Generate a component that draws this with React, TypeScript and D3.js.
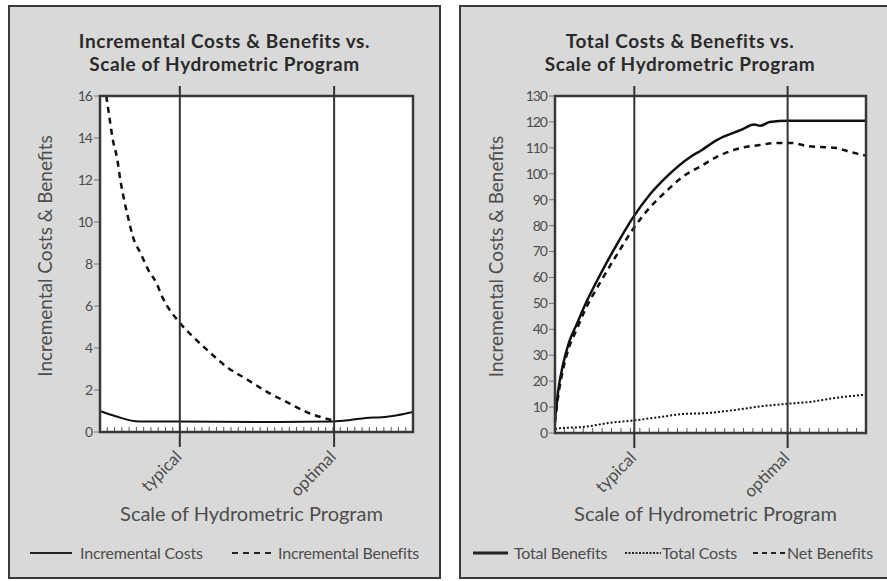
import * as d3 from 'd3'

type Pt = [number, number]

// x is the scale of the program, 0-100 across the plot
const incrementalCosts: Pt[] = [
  [0, 1.0], [5, 0.75], [12.5, 0.5], [25, 0.5], [50, 0.48], [74.5, 0.5],
  [80, 0.57], [85, 0.67], [90, 0.7], [95, 0.8], [100, 0.95],
]
const incrementalBenefits: Pt[] = [
  [2, 16], [3, 15], [4, 14], [5.5, 13], [6.5, 12], [7.5, 11.2], [9, 10.2],
  [10.5, 9.3], [13, 8.5], [15.5, 7.7], [18, 7.1], [20, 6.4], [25.5, 5.2],
  [30, 4.5], [35, 3.8], [40.5, 3.1], [47, 2.5], [53.5, 1.9], [60, 1.4],
  [66, 0.95], [74.5, 0.55],
]

const totalBenefits: Pt[] = [
  [0, 5], [1, 16], [2.5, 26], [4.5, 35], [7, 42], [9.5, 49], [14.5, 61],
  [20, 73], [25, 83], [30.5, 92], [36, 99], [43.5, 106.5], [47, 109],
  [52, 113], [60, 117], [64, 119], [66, 118.5], [69, 120], [75, 120.5], [100, 120.5],
]
const totalCosts: Pt[] = [
  [0, 1.5], [2, 1.9], [9, 2.3], [17.5, 3.9], [25, 4.8], [34, 6.2], [41, 7.3],
  [49, 7.7], [58, 8.9], [67, 10.4], [75, 11.3], [82, 12], [90, 13.5], [100, 14.8],
]
const netBenefits: Pt[] = [
  [0, 4], [1, 14], [2.5, 24], [4.5, 33], [7, 40], [9.5, 47], [14.5, 58],
  [20, 69], [25, 78.5], [30.5, 87], [36, 93.5], [41, 98.8], [47, 103],
  [52, 106.5], [60, 110], [66, 111.1], [71, 111.9], [76, 111.9], [81, 110.7],
  [85, 110.3], [90, 110], [95, 108.4], [100, 107],
]

const markers = [
  { label: 'typical', at: 25.5 },
  { label: 'optimal', at: 74.8 },
]

const leftTicks = d3.range(0, 17, 2)
const rightTicks = d3.range(0, 131, 10)

const FONT = 'Lato, "Open Sans", sans-serif'
const INK = '#2a2a2a'
const GREY = '#4d4d4d'

interface Series { data: Pt[]; dash: string; width: number }
interface LegendItem { label: string; dash: string; width: number; x: number; len: number; tx: number }

interface PanelProps {
  x0: number
  w: number
  plot: { left: number; right: number; top: number; bottom: number }
  title: [string, string]
  yMax: number
  yTicks: number[]
  minorCount: number
  series: Series[]
  legend: LegendItem[]
}

function Panel({ x0, w, plot, title, yMax, yTicks, minorCount, series, legend }: PanelProps) {
  const x = d3.scaleLinear().domain([0, 100]).range([plot.left, plot.right])
  const y = d3.scaleLinear().domain([0, yMax]).range([plot.bottom, plot.top])
  const line = d3.line<Pt>().x(d => x(d[0])).y(d => y(d[1])).curve(d3.curveMonotoneX)
  const minor = d3.range(0, minorCount + 1).map(i => (i * 100) / minorCount)
  const cx = x0 + w / 2
  const px = (plot.left + plot.right) / 2 - 5
  const py = (plot.top + plot.bottom) / 2 - 8

  return (
    <g fontFamily={FONT}>
      <rect x={x0} y={6} width={w} height={572} fill="#d9d9d9" stroke="#3a3a3a" strokeWidth={2} />
      <text x={cx} y={48} textAnchor="middle" fontSize={19} fontWeight={700} fill={INK} letterSpacing={0.6}>{title[0]}</text>
      <text x={cx} y={71} textAnchor="middle" fontSize={19} fontWeight={700} fill={INK} letterSpacing={0.6}>{title[1]}</text>

      <rect x={plot.left} y={plot.top} width={plot.right - plot.left} height={plot.bottom - plot.top} fill="#fff" />

      {minor.map((m, i) => (
        <line key={i} x1={x(m)} x2={x(m)} y1={plot.bottom} y2={plot.bottom - 5} stroke="#555" strokeWidth={1} />
      ))}

      {yTicks.map(t => (
        <g key={t}>
          <line x1={plot.left - 6} x2={plot.left} y1={y(t)} y2={y(t)} stroke="#777" strokeWidth={1} />
          <text x={plot.left - 8} y={y(t)} dy="0.35em" textAnchor="end" fontSize={14} fill={GREY} letterSpacing={-1}>{t}</text>
        </g>
      ))}

      {series.map((s, i) => (
        <path key={i} d={line(s.data) ?? ''} fill="none" stroke="#111" strokeWidth={s.width} strokeDasharray={s.dash} />
      ))}

      <rect x={plot.left} y={plot.top} width={plot.right - plot.left} height={plot.bottom - plot.top} fill="none" stroke="#383838" strokeWidth={2.5} />

      {markers.map(m => (
        <g key={m.label}>
          <line x1={x(m.at)} x2={x(m.at)} y1={plot.top - 10} y2={plot.bottom + 15} stroke="#333" strokeWidth={2} />
          <text transform={`translate(${x(m.at) + 3},${plot.bottom + 26}) rotate(-45)`} textAnchor="end" fontSize={17} fill={GREY}>{m.label}</text>
        </g>
      ))}

      <text transform={`translate(${x0 + 43},${py}) rotate(-90)`} textAnchor="middle" fontSize={19} fill={GREY}>Incremental Costs &amp; Benefits</text>
      <text x={px} y={521} textAnchor="middle" fontSize={20} fill={GREY}>Scale of Hydrometric Program</text>

      {legend.map(l => (
        <g key={l.label}>
          <line x1={l.x} x2={l.x + l.len} y1={553} y2={553} stroke="#222" strokeWidth={l.width} strokeDasharray={l.dash} />
          <text x={l.tx} y={553} dy="0.35em" fontSize={16} fill={GREY} letterSpacing={-0.2}>{l.label}</text>
        </g>
      ))}
    </g>
  )
}

export default function App() {
  return (
    <svg width={887} height={581} style={{ position: 'absolute', left: 0, top: 0, background: '#fff' }}>
      <Panel
        x0={9}
        w={431}
        plot={{ left: 100, right: 413, top: 96, bottom: 432 }}
        title={['Incremental Costs & Benefits vs.', 'Scale of Hydrometric Program']}
        yMax={16}
        yTicks={leftTicks}
        minorCount={43}
        series={[
          { data: incrementalCosts, dash: '', width: 2 },
          { data: incrementalBenefits, dash: '6,5', width: 2.5 },
        ]}
        legend={[
          { label: 'Incremental Costs', dash: '', width: 2, x: 30, len: 42, tx: 80 },
          { label: 'Incremental Benefits', dash: '6,5', width: 2, x: 232, len: 40, tx: 278 },
        ]}
      />
      <Panel
        x0={460}
        w={440}
        plot={{ left: 555, right: 866, top: 96, bottom: 433 }}
        title={['Total Costs & Benefits vs.', 'Scale of Hydrometric Program']}
        yMax={130}
        yTicks={rightTicks}
        minorCount={33}
        series={[
          { data: totalCosts, dash: '2,2', width: 2 },
          { data: netBenefits, dash: '6,5', width: 2.5 },
          { data: totalBenefits, dash: '', width: 2.5 },
        ]}
        legend={[
          { label: 'Total Benefits', dash: '', width: 3, x: 473, len: 35, tx: 514 },
          { label: 'Total Costs', dash: '2,1.5', width: 2, x: 625, len: 36, tx: 662 },
          { label: 'Net Benefits', dash: '5,4', width: 2, x: 753, len: 32, tx: 787 },
        ]}
      />
    </svg>
  )
}
